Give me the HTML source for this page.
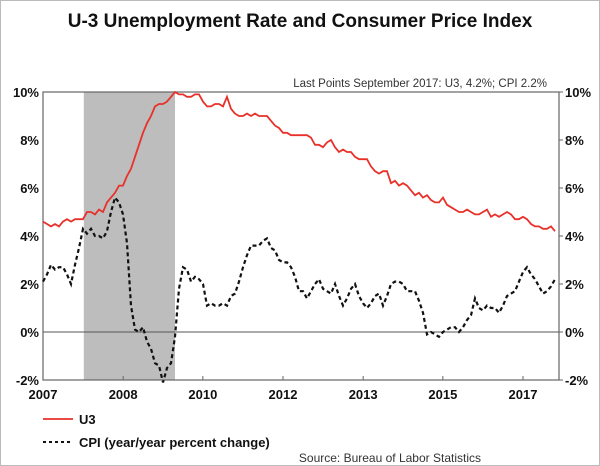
<!DOCTYPE html>
<html><head><meta charset="utf-8"><style>
body{margin:0;background:#fff;font-family:"Liberation Sans",sans-serif;}
#wrap{position:relative;width:598px;height:464px;border:1px solid #bbb;overflow:hidden;}
</style></head><body>
<div id="wrap">
<svg id="chart" width="598" height="464" xmlns="http://www.w3.org/2000/svg"></svg>
</div>
<script>
const u3 = [4.6,4.5,4.4,4.5,4.4,4.6,4.7,4.6,4.7,4.7,4.7,5.0,
5.0,4.9,5.1,5.0,5.4,5.6,5.8,6.1,6.1,6.5,6.8,7.3,
7.8,8.3,8.7,9.0,9.4,9.5,9.5,9.6,9.8,10.0,9.9,9.9,
9.8,9.8,9.9,9.9,9.6,9.4,9.4,9.5,9.5,9.4,9.8,9.3,
9.1,9.0,9.0,9.1,9.0,9.1,9.0,9.0,9.0,8.8,8.6,8.5,
8.3,8.3,8.2,8.2,8.2,8.2,8.2,8.1,7.8,7.8,7.7,7.9,
8.0,7.7,7.5,7.6,7.5,7.5,7.3,7.2,7.2,7.2,6.9,6.7,
6.6,6.7,6.7,6.2,6.3,6.1,6.2,6.1,5.9,5.7,5.8,5.6,
5.7,5.5,5.4,5.4,5.6,5.3,5.2,5.1,5.0,5.0,5.1,5.0,
4.9,4.9,5.0,5.1,4.8,4.9,4.8,4.9,5.0,4.9,4.7,4.7,
4.8,4.7,4.5,4.4,4.4,4.3,4.3,4.4,4.2];
const cpi = [2.1,2.4,2.8,2.6,2.7,2.7,2.4,2.0,2.8,3.5,4.3,4.1,
4.3,4.0,4.0,3.9,4.2,5.0,5.6,5.4,4.9,3.7,1.1,0.1,
0.0,0.2,-0.4,-0.7,-1.3,-1.4,-2.1,-1.5,-1.3,-0.2,1.8,2.7,
2.6,2.1,2.3,2.2,2.0,1.1,1.2,1.1,1.1,1.2,1.1,1.5,
1.6,2.1,2.7,3.2,3.6,3.6,3.6,3.8,3.9,3.5,3.4,3.0,
2.9,2.9,2.7,2.3,1.7,1.7,1.4,1.7,2.0,2.2,1.8,1.7,
1.6,2.0,1.5,1.1,1.4,1.8,2.0,1.5,1.2,1.0,1.2,1.5,
1.6,1.1,1.5,2.0,2.1,2.1,2.0,1.7,1.7,1.7,1.3,0.8,
-0.1,0.0,-0.1,-0.2,0.0,0.1,0.2,0.2,0.0,0.2,0.5,0.7,
1.4,1.0,0.9,1.1,1.0,1.0,0.8,1.1,1.5,1.6,1.7,2.1,
2.5,2.7,2.4,2.2,1.9,1.6,1.7,1.9,2.2];
const xTickValues = [2007.0,2008.67,2010.33,2012.0,2013.67,2015.33,2017.0];
const xTickLabels = ["2007","2008","2010","2012","2013","2015","2017"];
const yTicks = [-2,0,2,4,6,8,10];
const recession = [2007.85,2009.75];
const startYear = 2007.0;

const L=42,R=558,T=91,B=379;
const xMin=2007.0,xMax=2017.75,yMin=-2,yMax=10;
const xs=v=>L+(v-xMin)/(xMax-xMin)*(R-L);
const ys=v=>B-(v-yMin)/(yMax-yMin)*(B-T);
const NS="http://www.w3.org/2000/svg";
const svg=document.getElementById('chart');
function mk(tag,attrs,text){const e=document.createElementNS(NS,tag);for(const k in attrs)e.setAttribute(k,attrs[k]);if(text!==undefined)e.textContent=text;svg.appendChild(e);return e;}

let e;
e=mk('text',{x:299,y:26,'text-anchor':'middle','font-size':19,'font-weight':'bold',fill:'#111'},'U-3 Unemployment Rate and Consumer Price Index');


e=mk('text',{x:546,y:86,'text-anchor':'end','font-size':11.5,fill:'#333'},'Last Points September 2017: U3, 4.2%; CPI  2.2%');



e=mk('rect',{x:xs(recession[0]),y:T,width:xs(recession[1])-xs(recession[0]),height:B-T,fill:'#bdbdbd'});



e=mk('line',{x1:L,x2:R,y1:ys(0),y2:ys(0),stroke:'#555','stroke-width':1});



e=mk('rect',{x:L,y:T,width:R-L,height:B-T,fill:'none',stroke:'#666','stroke-width':1.2});



yTicks.forEach(v=>{
  let t=mk('text',{x:L-4,y:ys(v)+5,'text-anchor':'end','font-size':13,'font-weight':'bold',fill:'#111'},v+'%');
  
  
  let t2=mk('text',{x:R+6,y:ys(v)+5,'text-anchor':'start','font-size':13,'font-weight':'bold',fill:'#111'},v+'%');
  
  
  let tk=mk('line',{x1:R,x2:R+4,y1:ys(v),y2:ys(v),stroke:'#666'});
  
  
});
xTickValues.forEach((v,i)=>{
  let tk=mk('line',{x1:xs(v),x2:xs(v),y1:B,y2:B-4,stroke:'#666'});
  
  
  let t=mk('text',{x:xs(v),y:398,'text-anchor':'middle','font-size':13,'font-weight':'bold',fill:'#111'},xTickLabels[i]);
  
  
});

function pathOf(arr){return arr.map((v,i)=>(i?'L':'M')+xs(startYear+i/12).toFixed(1)+','+ys(v).toFixed(1)).join('');}
e=mk('path',{d:pathOf(cpi),fill:'none',stroke:'#111','stroke-width':2.2,'stroke-dasharray':'4,3'});


e=mk('path',{d:pathOf(u3),fill:'none',stroke:'#e8312a','stroke-width':1.8});



e=mk('line',{x1:42,x2:72,y1:418,y2:418,stroke:'#e8312a','stroke-width':1.8});


e=mk('text',{x:78,y:423,'font-size':13,'font-weight':'bold',fill:'#111'},'U3');


e=mk('line',{x1:42,x2:72,y1:441,y2:441,stroke:'#111','stroke-width':2,'stroke-dasharray':'3,3'});


e=mk('text',{x:78,y:446,'font-size':13,'font-weight':'bold',fill:'#111'},'CPI (year/year percent change)');


e=mk('text',{x:480,y:461,'text-anchor':'end','font-size':12,fill:'#333'},'Source: Bureau of Labor Statistics');


</script>
</body></html>
